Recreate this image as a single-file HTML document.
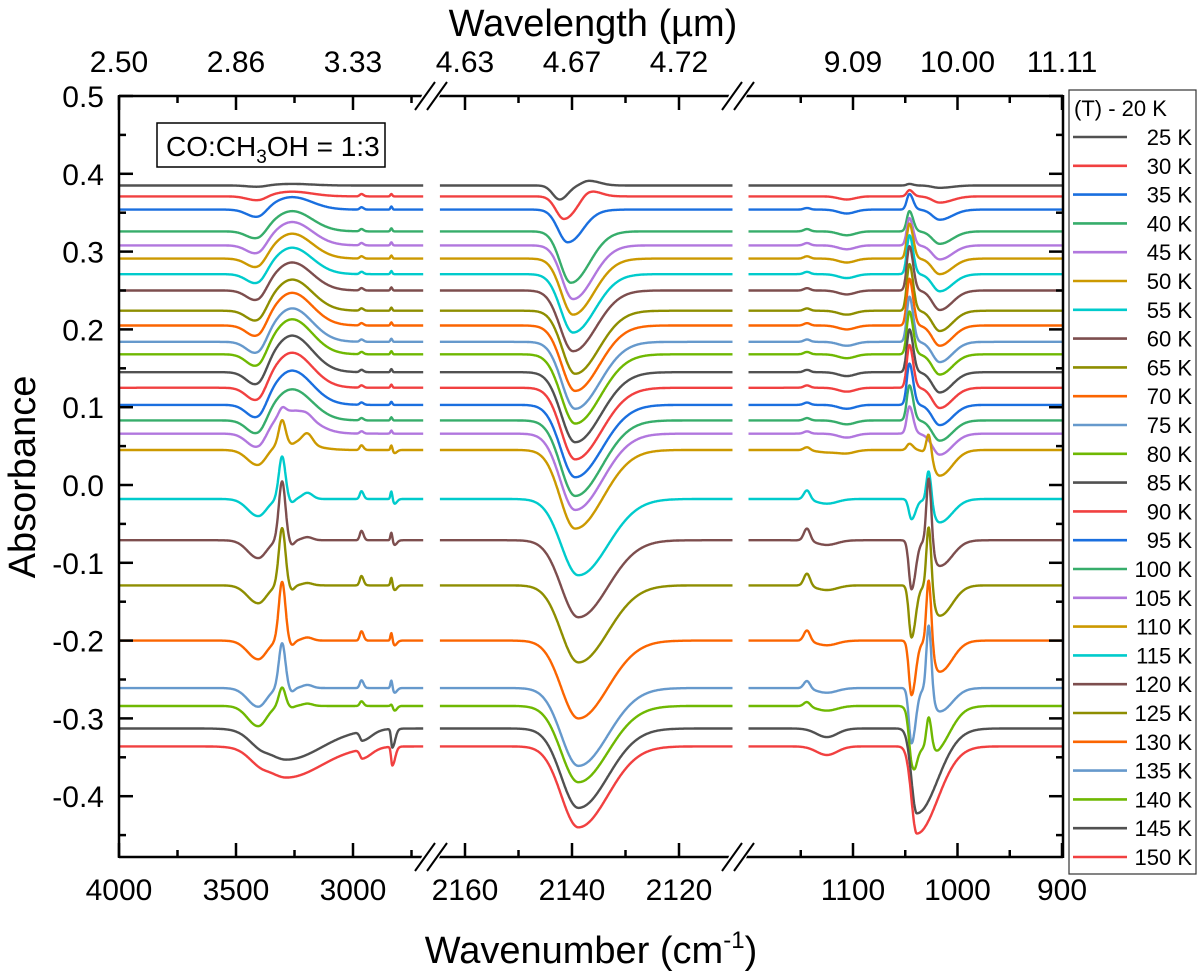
<!DOCTYPE html>
<html><head><meta charset="utf-8"><title>IR spectra CO:CH3OH 1:3</title>
<style>
html,body{margin:0;padding:0;background:#fff;}
svg{display:block;font-family:"Liberation Sans",Arial,sans-serif;}
</style></head>
<body>
<svg id="chart" width="1200" height="975" viewBox="0 0 1200 975" xmlns="http://www.w3.org/2000/svg">
<rect x="0" y="0" width="1200" height="975" fill="#fff"/>
<g id="curves"></g>
<g id="axes"></g>
<g>
<rect x="157" y="123" width="228" height="44" fill="#fff" stroke="#000" stroke-width="1.5"/>
<text x="166" y="156" font-size="28">CO:CH<tspan font-size="19" dy="7">3</tspan><tspan dy="-7">OH = 1:3</tspan></text>
</g>
<text x="593" y="36" font-size="38" text-anchor="middle">Wavelength (µm)</text>
<text x="591" y="963" font-size="38" text-anchor="middle">Wavenumber (cm<tspan font-size="24" dy="-15">-1</tspan><tspan dy="15">)</tspan></text>
<text transform="translate(35,477) rotate(-90)" font-size="38" text-anchor="middle">Absorbance</text>
<g id="legend">
<rect x="1069" y="90" width="127" height="784" fill="#fff" stroke="#333" stroke-width="1.2"/>
<text x="1074" y="116" font-size="22">(T) - 20 K</text>
</g>
</svg>
<script>
// ---------- data ----------
const temps = [25,30,35,40,45,50,55,60,65,70,75,80,85,90,95,100,105,110,115,120,125,130,135,140,145,150];
const colors = ["#515151","#F14040","#1A6FDF","#37AD6B","#B177DE","#CC9900","#00CBCC","#7D4E4E","#8E8E00","#FB6501","#6699CC","#6FB802","#515151","#F14040","#1A6FDF","#37AD6B","#B177DE","#CC9900","#00CBCC","#7D4E4E","#8E8E00","#FB6501","#6699CC","#6FB802","#515151","#F14040"];
const baselines = [0.385,0.371,0.354,0.326,0.308,0.291,0.271,0.250,0.224,0.205,0.184,0.168,0.145,0.125,0.103,0.083,0.066,0.045,-0.018,-0.071,-0.129,-0.200,-0.261,-0.284,-0.313,-0.336];
// OH stretch region
const ohBroad = [0.002,0.006,0.016,0.026,0.030,0.032,0.034,0.036,0.040,0.042,0.043,0.045,0.047,0.045,0.044,0.040,0.030,0.010,0,0,0,0,0,0,0,0];
const ohDip   = [-0.002,-0.006,-0.012,-0.013,-0.015,-0.016,-0.017,-0.018,-0.019,-0.020,-0.021,-0.022,-0.023,-0.023,-0.023,-0.023,-0.022,-0.021,-0.022,-0.023,-0.023,-0.024,-0.024,-0.026,-0.008,-0.008];
const ohSharp = [0,0,0,0,0,0,0,0,0,0,0,0,0,0,0,0,0.008,0.030,0.055,0.076,0.074,0.076,0.058,0.024,0,0];
const ohSide  = [0,0,0,0,0,0,0,0,0,0,0,0,0,0,0,0,0.004,0.014,0.008,0.004,0.003,0.004,0.004,0.003,0,0];
const ohWide  = [0,0,0,0,0,0,0,0,0,0,0,0,0,0,0,0,0,0,0,0,0,0,0,0,-0.040,-0.040];
const ch1     = [0,0.003,0.003,0.003,0.003,0.003,0.003,0.003,0.003,0.003,0.003,0.003,0.003,0.003,0.003,0.003,0.003,0.006,0.010,0.012,0.012,0.012,0.010,0.006,0,0];
const chStep  = [0,0,0,0,0,0,0,0,0,0,0,0,0,0,0,0,0,0,0,0,0,0,0,0,-0.012,-0.012];
const ch2     = [0,0.003,0.004,0.004,0.004,0.004,0.004,0.004,0.004,0.004,0.004,0.004,0.004,0.004,0.004,0.004,0.004,0.006,0.010,0.010,0.010,0.010,0.010,0.002,0,0];
const chDeep  = [0,0,0,0,0,0,0,0,0,0,0,0,0,0,0,0,0,0,0,0,0,0,0,0,-0.024,-0.024];
const ch2neg  = [0,0,0,0,0,0,0,0,0,0,0,0,0,0,0,0,0,-0.004,-0.006,-0.006,-0.006,-0.006,-0.006,-0.006,0,0];
// CO stretch region
const coDepth = [-0.018,-0.029,-0.042,-0.066,-0.069,-0.072,-0.075,-0.078,-0.081,-0.084,-0.086,-0.089,-0.090,-0.092,-0.093,-0.097,-0.098,-0.101,-0.098,-0.099,-0.099,-0.100,-0.100,-0.098,-0.102,-0.104];
const coCenter = [2142.3,2141.5,2140.8,2140.2,2139.8,2139.8,2139.8,2139.8,2139.4,2139.4,2139.4,2139.4,2139.4,2139.4,2139.4,2139.4,2139.4,2139.4,2138.8,2138.8,2138.8,2138.8,2138.8,2138.8,2138.8,2138.8];
const coSigL = [1.3,1.5,1.8,2.0,2.1,2.2,2.3,2.4,2.4,2.5,2.5,2.6,2.6,2.6,2.7,2.7,2.8,2.8,3.2,3.2,3.2,3.2,3.2,3.2,3.2,3.2];
const coSigR = [1.5,2.2,3.0,3.5,3.7,3.9,4.1,4.3,4.4,4.5,4.6,4.7,4.8,4.9,5.0,5.0,5.1,5.2,5.5,5.5,5.5,5.5,5.5,5.5,5.5,5.5];
const coPos  = [0.006,0.008,0.002,0,0,0,0,0,0,0,0,0,0,0,0,0,0,0,0,0,0,0,0,0,0,0];
// C-O stretch (methanol) region
const p1144  = [0,0,0.002,0.003,0.003,0.003,0.003,0.003,0.003,0.003,0.003,0.003,0.003,0.003,0.003,0.003,0.003,0.004,0.012,0.016,0.016,0.014,0.010,0.006,0,0];
const d1120  = [0,0,0,0,0,0,0,0,0,0,0,0,0,0,0,0,0,-0.003,-0.006,-0.006,-0.006,-0.006,-0.006,-0.006,-0.011,-0.011];
const d1105  = [0,-0.004,-0.005,-0.005,-0.005,-0.005,-0.005,-0.005,-0.005,-0.005,-0.005,-0.005,-0.005,-0.005,-0.005,-0.005,-0.005,-0.004,0,0,0,0,0,0,0,0];
const p1046  = [0.002,0.008,0.020,0.026,0.035,0.045,0.050,0.057,0.060,0.060,0.058,0.055,0.055,0.055,0.053,0.045,0.035,0.008,0,0,0,0,0,0,0,0];
const d1044  = [0,0,0,0,0,0,0,0,0,0,0,0,0,0,0,0,0,0,-0.026,-0.063,-0.067,-0.070,-0.071,-0.040,0,0];
const p1027  = [0,0,0,0,0,0,0,0,0,0,0,0,0,0,0,0,0,0.030,0.045,0.090,0.087,0.090,0.090,0.040,0,0];
const d1017  = [-0.003,-0.008,-0.013,-0.016,-0.018,-0.020,-0.022,-0.025,-0.026,-0.026,-0.026,-0.026,-0.026,-0.026,-0.026,-0.026,-0.027,-0.033,-0.030,-0.033,-0.039,-0.040,-0.030,-0.025,0,0];
const wide1040 = [0,0,0,0,0,0,0,0,0,0,0,0,0,0,0,0,0,0,0,0,0,0,0,-0.055,-0.109,-0.112];
// axis tick labels
const yTicks = [-0.4,-0.3,-0.2,-0.1,0.0,0.1,0.2,0.3,0.4,0.5];
const p1Ticks = [4000,3500,3000];
const p2Ticks = [2160,2140,2120];
const p3Ticks = [1100,1000,900];
const p1Minor = [3750,3250,2750];
const p2Minor = [2150,2130];
const p3Minor = [1150,1050,950];
const topLabels = ["2.50","2.86","3.33","4.63","4.67","4.72","9.09","10.00","11.11"];

// ---------- scales ----------
const yS = v => 485 - v*778;
const x1 = w => 119 + (4000-w)*0.234;
const x2 = w => 465 + (2160-w)*5.35;
const x3 = w => 853 + (1100-w)*1.045;
const g = (w,c,sl,sr) => { const s = w>c?sl:sr; const d=(w-c)/s; return Math.exp(-0.5*d*d); };

const NS="http://www.w3.org/2000/svg";
const curves=document.getElementById('curves');
const axes=document.getElementById('axes');
function mk(tag,attrs,parent){const e=document.createElementNS(NS,tag);for(const k in attrs)e.setAttribute(k,attrs[k]);parent.appendChild(e);return e;}

function v1(i,w){return baselines[i]+ohBroad[i]*g(w,3260,80,85)+ohDip[i]*g(w,3405,45,35)+ohSharp[i]*g(w,3303,14,14)
 -ohSharp[i]*0.08*g(w,3262,12,12)+ohSide[i]*g(w,3195,22,22)+ohWide[i]*g(w,3285,95,150)
 +ch1[i]*g(w,2964,7,9)+chStep[i]*g(w,2960,10,40)+ch2[i]*g(w,2836,4,4)+chDeep[i]*g(w,2832,5,12)+ch2neg[i]*g(w,2822,6,10);}
function v2(i,w){return baselines[i]+coDepth[i]*g(w,coCenter[i],coSigL[i],coSigR[i])+coPos[i]*g(w,2136.8,1.3,2.0);}
function v3(i,w){return baselines[i]+p1144[i]*g(w,1144,3,3)+d1120[i]*g(w,1125,10,10)+d1105[i]*g(w,1106,8,8)
 +p1046[i]*g(w,1046,2.5,3.5)+d1044[i]*g(w,1044,2.5,4)+p1027[i]*g(w,1027.5,2.2,2.5)+d1017[i]*g(w,1017,7,12)
 +wide1040[i]*g(w,1039,5,20);}

for(let i=0;i<temps.length;i++){
  const grp=mk('g',{},curves);
  
  
  let d='';
  for(let w=4000;w>=2700;w-=2){d+=(w===4000?'M':'L')+x1(w).toFixed(1)+','+yS(v1(i,w)).toFixed(1);}
  for(let w=2164.7;w>=2110;w-=0.1){d+=(w>2164.6?'M':'L')+x2(w).toFixed(1)+','+yS(v2(i,w)).toFixed(1);}
  for(let w=1200;w>=900;w-=0.5){d+=(w===1200?'M':'L')+x3(w).toFixed(1)+','+yS(v3(i,w)).toFixed(1);}
  const p=mk('path',{d:d,fill:'none',stroke:colors[i],'stroke-width':2.4,'stroke-linejoin':'round'},grp);
  
  
  // legend entry
  const ly=137+i*28.8;
  const le=mk('g',{},document.getElementById('legend'));
  
  
  mk('line',{x1:1073,y1:ly,x2:1127,y2:ly,stroke:colors[i],'stroke-width':2.6},le);
  const t=mk('text',{x:1192,y:ly+8,'font-size':22,'text-anchor':'end'},le);
  t.textContent=temps[i]+' K';
}

// ---------- axes ----------
const L=119,R=1063,T=96,B=857;
const frame=mk('g',{stroke:'#000','stroke-width':2.5,fill:'none'},axes);


mk('line',{x1:L,y1:T,x2:R,y2:T},frame);
mk('line',{x1:L,y1:B,x2:R,y2:B},frame);
mk('line',{x1:L,y1:T-1,x2:L,y2:B+1},frame);
mk('line',{x1:R,y1:T-1,x2:R,y2:B+1},frame);
// y ticks
yTicks.forEach(v=>{
  const y=yS(v);
  mk('line',{x1:L,y1:y,x2:L+14,y2:y},frame); mk('line',{x1:R,y1:y,x2:R-14,y2:y},frame);
  const ym=yS(v-0.05); if(ym<B){mk('line',{x1:L,y1:ym,x2:L+7,y2:ym},frame); mk('line',{x1:R,y1:ym,x2:R-7,y2:ym},frame);}
  const t=mk('text',{x:104,y:y+11,'font-size':30,'text-anchor':'end',fill:'#000'},axes);
  
  
  t.textContent=v.toFixed(1);
});
// x ticks
const majors=[];p1Ticks.forEach(w=>majors.push(x1(w)));p2Ticks.forEach(w=>majors.push(x2(w)));p3Ticks.forEach(w=>majors.push(x3(w)));
const minors=[];p1Minor.forEach(w=>minors.push(x1(w)));p2Minor.forEach(w=>minors.push(x2(w)));p3Minor.forEach(w=>minors.push(x3(w)));
const botLabels=[].concat(p1Ticks,p2Ticks,p3Ticks);
majors.forEach((x,k)=>{
  mk('line',{x1:x,y1:B,x2:x,y2:B-14},frame); mk('line',{x1:x,y1:T,x2:x,y2:T+14},frame);
  const t=mk('text',{x:x,y:B+43,'font-size':30,'text-anchor':'middle',fill:'#000'},axes);
  
  
  t.textContent=botLabels[k];
  const t2=mk('text',{x:x,y:T-24,'font-size':30,'text-anchor':'middle',fill:'#000'},axes);
  
  
  t2.textContent=topLabels[k];
});
minors.forEach(x=>{mk('line',{x1:x,y1:B,x2:x,y2:B-7},frame);mk('line',{x1:x,y1:T,x2:x,y2:T+7},frame);});
// axis breaks
[431,738].forEach(bx=>{
  [T,B].forEach(by=>{
    const br=mk('g',{},axes);
    
    
    mk('polygon',{points:(bx-14)+','+(by+10)+' '+(bx-2)+','+(by-16)+' '+(bx+16)+','+(by-16)+' '+(bx+4)+','+(by+10),fill:'#fff'},br);
    mk('line',{x1:bx-16,y1:by+14,x2:bx+4,y2:by-14,stroke:'#000','stroke-width':2},br);
    mk('line',{x1:bx-4,y1:by+14,x2:bx+16,y2:by-14,stroke:'#000','stroke-width':2},br);
  });
});
</script>
</body></html>
